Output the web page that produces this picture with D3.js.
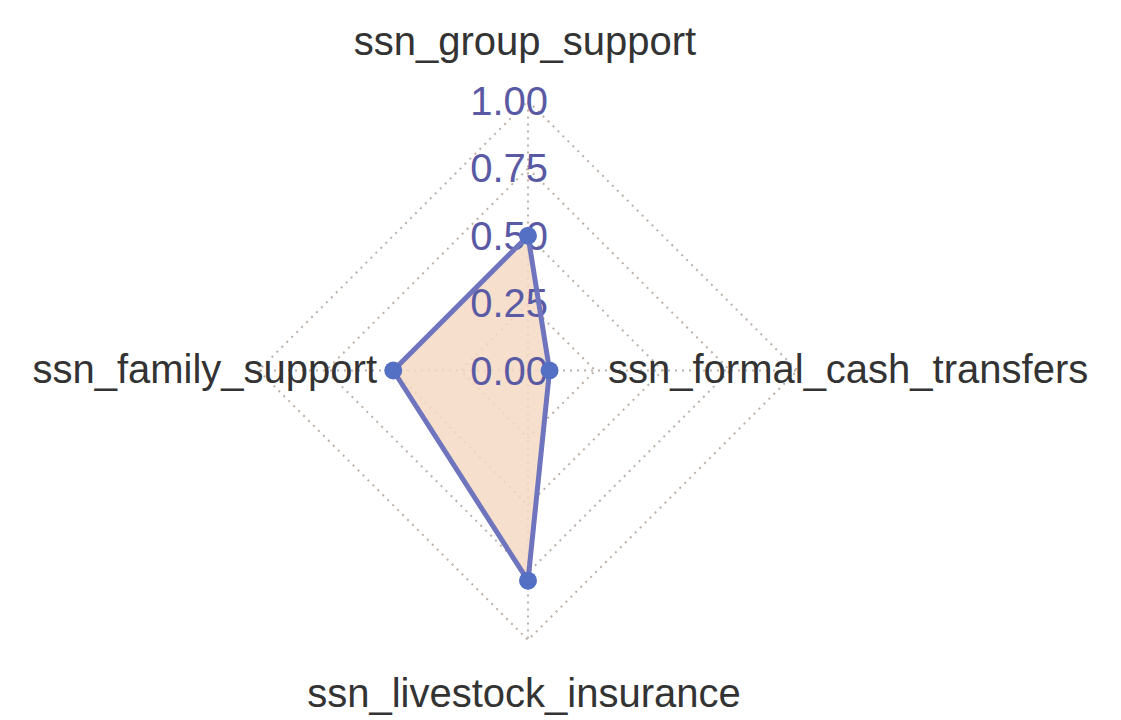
<!DOCTYPE html>
<html>
<head>
<meta charset="utf-8">
<script src="https://cdn.jsdelivr.net/npm/d3@7"></script>
<style>
  html, body { margin: 0; padding: 0; background: #fff; }
  svg { display: block; font-family: "Liberation Sans", Arial, sans-serif; }
</style>
</head>
<body>
<div id="chart"></div>
<script>
// Categories clockwise from the top, and the value on each spoke.
const categories = ["ssn_group_support", "ssn_formal_cash_transfers", "ssn_livestock_insurance", "ssn_family_support"];
const values = [0.50, 0.08, 0.78, 0.50];
const tickValues = [0, 0.25, 0.5, 0.75, 1.0];
const tickLabels = ["0.00", "0.25", "0.50", "0.75", "1.00"];

const width = 1121;
const height = 720;
const cx = 528, cy = 370.5;
const radius = 269.5;

const svg = d3.select("#chart").append("svg")
    .attr("width", width)
    .attr("height", height);

const r = d3.scaleLinear().domain([0, 1]).range([0, radius]);
const angle = d3.scalePoint().domain(categories).range([0, 2 * Math.PI * (categories.length - 1) / categories.length]);

const g = svg.append("g").attr("transform", `translate(${cx},${cy})`);

// Grid: diamonds at each tick, plus spokes.
const grid = g.append("g")
    .attr("fill", "none")
    .attr("stroke", "#bdb0a6")
    .attr("stroke-width", 2)
    .attr("stroke-dasharray", "2,5");

const ring = d3.lineRadial()
    .angle(d => angle(d))
    .curve(d3.curveLinearClosed);

grid.selectAll("path.ring")
    .data(tickValues.filter(t => t > 0))
    .join("path")
    .attr("class", "ring")
    .attr("d", t => ring.radius(r(t))(categories));

grid.selectAll("line.spoke")
    .data(categories)
    .join("line")
    .attr("class", "spoke")
    .attr("x1", 0).attr("y1", 0)
    .attr("x2", d => r(1) * Math.sin(angle(d)))
    .attr("y2", d => -r(1) * Math.cos(angle(d)));

// Data area
const area = d3.lineRadial()
    .angle((d, i) => angle(categories[i]))
    .radius(d => r(d))
    .curve(d3.curveLinearClosed);

g.append("path")
    .attr("d", area(values))
    .attr("fill", "#f6d9c4")
    .attr("fill-opacity", 0.85)
    .attr("stroke", "none");

// Tick labels up the top spoke
g.append("g")
    .attr("fill", "#5a5aa4")
    .attr("font-size", 40)
    .attr("text-anchor", "end")
    .selectAll("text")
    .data(tickValues)
    .join("text")
    .attr("x", 20)
    .attr("y", d => -r(d))
    .attr("dy", "0.35em")
    .text((d, i) => tickLabels[i]);

g.append("path")
    .attr("d", area(values))
    .attr("fill", "none")
    .attr("stroke", "#6e74bd")
    .attr("stroke-width", 5)
    .attr("stroke-linejoin", "round");

g.selectAll("circle.pt")
    .data(values)
    .join("circle")
    .attr("class", "pt")
    .attr("cx", (d, i) => r(d) * Math.sin(angle(categories[i])))
    .attr("cy", (d, i) => -r(d) * Math.cos(angle(categories[i])))
    .attr("r", 9)
    .attr("fill", "#5470c4");

// Category labels
const labelPos = {
    "ssn_group_support": { x: -3, y: -316, anchor: "middle" },
    "ssn_formal_cash_transfers": { x: 80, y: 12, anchor: "start" },
    "ssn_livestock_insurance": { x: -4, y: 336, anchor: "middle" },
    "ssn_family_support": { x: -151, y: 12, anchor: "end" }
};

g.append("g")
    .attr("fill", "#333")
    .attr("font-size", 40)
    .selectAll("text")
    .data(categories)
    .join("text")
    .attr("x", d => labelPos[d].x)
    .attr("y", d => labelPos[d].y)
    .attr("text-anchor", d => labelPos[d].anchor)
    .text(d => d);
</script>
</body>
</html>
